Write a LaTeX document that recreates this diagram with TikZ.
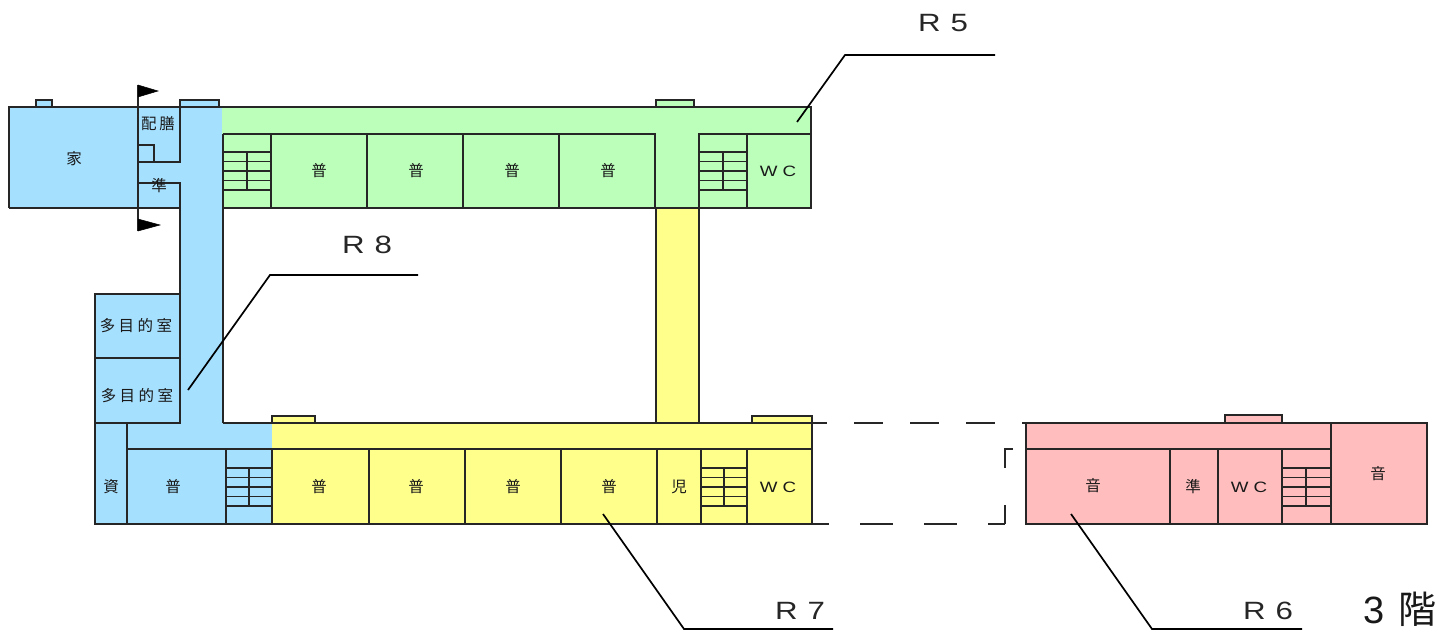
\documentclass[tikz,border=0pt]{standalone}
\usepackage{fontspec}
\setmainfont{Liberation Sans}
\newfontfamily\cjk{Noto Sans CJK JP}
\newfontfamily\wide[FakeStretch=1.25]{Liberation Sans}
\definecolor{bluezone}{HTML}{A6E0FF}
\definecolor{greenzone}{HTML}{BBFFBB}
\definecolor{yellowzone}{HTML}{FFFF8C}
\definecolor{pinkzone}{HTML}{FFBDBD}
\tikzset{
  wall/.style={draw=black!85,line width=1.1pt},
  thin wall/.style={draw=black!85,line width=1.1pt},
  leader/.style={draw=black,line width=1.7pt},
  room/.style={font=\cjk\fontsize{15.5}{15.5}\selectfont,inner sep=0pt,text=black!90},
  wc/.style={font=\wide\fontsize{15}{15}\selectfont,inner sep=0pt,text=black!90},
  rlabel/.style={font=\wide\fontsize{25}{25}\selectfont,inner sep=0pt,text=black!85},
  flagmark/.style={fill=black,draw=black,line width=.5pt},
}
\newcommand{\stairset}[4]{% x1, xmid, x2, ytop
  \foreach \k in {0,1,2,3,4}{
    \draw[thin wall] (#1,{#4+\k*9.5}) -- (#3,{#4+\k*9.5});
  }
  \draw[thin wall] (#2,#4) -- (#2,{#4+38});
}
\begin{document}
\begin{tikzpicture}[x=1pt,y=-1pt]
\useasboundingbox (0,0) rectangle (1446,632);
% fills
\fill[bluezone] (9,107) rectangle (222,208);
\fill[bluezone] (180,208) rectangle (222,423);
\fill[bluezone] (95,294) rectangle (180,423);
\fill[bluezone] (95,423) rectangle (272,524);
\fill[greenzone] (222,107) rectangle (811,208);
\fill[yellowzone] (656,208) rectangle (699,423);
\fill[yellowzone] (272,423) rectangle (812,524);
\fill[pinkzone] (1026,423) rectangle (1427,524);
% bumps
\filldraw[fill=bluezone,thin wall] (36,107) rectangle (52,100);
\filldraw[fill=bluezone,thin wall] (180,107) rectangle (219,100);
\filldraw[fill=greenzone,thin wall] (656,107) rectangle (694,100);
\filldraw[fill=yellowzone,thin wall] (272,423) rectangle (315,416);
\filldraw[fill=yellowzone,thin wall] (752,423) rectangle (812,416);
\filldraw[fill=pinkzone,thin wall] (1225,423) rectangle (1282,415);
% upper wing
\draw[wall] (9,208) -- (9,107) -- (811,107) -- (811,208) -- (222,208);
\draw[wall] (9,208) -- (180,208);
\draw[wall] (138,85) -- (138,231);
\draw[wall] (180,107) -- (180,162) -- (138,162);
\draw[wall] (138,183) -- (180,183) -- (180,294);
\draw[thin wall] (138,145) -- (154,145) -- (154,162);
\draw[wall] (223,134) -- (655,134) -- (655,208);
\draw[wall] (699,208) -- (699,134) -- (811,134);
\draw[wall] (223,134) -- (223,423);
\foreach \x in {271,367,463,559}{\draw[thin wall] (\x,134) -- (\x,208);}
\draw[thin wall] (747,134) -- (747,208);
\stairset{223}{247}{271}{152}
\stairset{699}{723}{747}{152}
% connecting wing
\draw[wall] (656,208) -- (656,423);
\draw[wall] (699,208) -- (699,423);
% west block
\draw[wall] (180,294) -- (95,294) -- (95,524) -- (812,524) -- (812,423) -- (223,423);
\draw[wall] (95,423) -- (180,423) -- (180,294);
\draw[thin wall] (95,358) -- (180,358);
\draw[wall] (127,423) -- (127,524);
\draw[wall] (127,449) -- (812,449);
\draw[thin wall] (226,449) -- (226,524);
\foreach \x in {272,369,465,561,657,701,747}{\draw[thin wall] (\x,449) -- (\x,524);}
\stairset{226}{249}{272}{468}
\stairset{701}{724}{747}{468}
% pink block
\draw[wall] (1026,423) rectangle (1427,524);
\draw[thin wall] (1026,449) -- (1331,449);
\draw[thin wall] (1331,423) -- (1331,524);
\foreach \x in {1170,1218,1282}{\draw[thin wall] (\x,449) -- (\x,524);}
\stairset{1282}{1306}{1331}{468}
% break lines
\foreach \a/\b in {812/827,854/883,910/939,966/995,1022/1038}{\draw[thin wall] (\a,423) -- (\b,423);}
\foreach \a/\b in {812/829,860/893,924/957,988/1005}{\draw[thin wall] (\a,524) -- (\b,524);}
\draw[thin wall] (1013,449) -- (1005,449) -- (1005,468);
\draw[thin wall] (1005,505) -- (1005,524);
% flags
\fill[flagmark] (138,85) -- (158,91) -- (138,97) -- cycle;
\fill[flagmark] (138,219) -- (160,225) -- (138,231) -- cycle;
% room labels
\node[room] (kaseitsu) at (74,159) {家};
\node[room] (haizen) at (158,124) {配\hspace{3pt}膳};
\node[room] (jun1) at (159,186) {準};
\foreach \n/\x in {a/319,b/416,c/512,d/608}{\node[room] (fu\n) at (\x,171) {普};}
\node[wc] (wc1) at (778,171) {W\hspace{5pt}C};
\node[room] (tamoku1) at (136,326) {多\hspace{3.5pt}目\hspace{3.5pt}的\hspace{3.5pt}室};
\node[room] (tamoku2) at (137,396) {多\hspace{3.5pt}目\hspace{3.5pt}的\hspace{3.5pt}室};
\node[room] (shi) at (111,487) {資};
\node[room] (fue) at (173,487) {普};
\foreach \n/\x in {f/319,g/416,h/513,i/609}{\node[room] (fu\n) at (\x,487) {普};}
\node[room] (ji) at (679,487) {児};
\node[wc] (wc2) at (778,487) {W\hspace{5pt}C};
\node[room] (on1) at (1093,486) {音};
\node[room] (jun2) at (1193,487) {準};
\node[wc] (wc3) at (1249,487) {W\hspace{5pt}C};
\node[room] (on2) at (1378,474) {音};
% leaders
\coordinate (r5a) at (797,122); \coordinate (r5b) at (845,55); \coordinate (r5c) at (995,55);
\coordinate (r8a) at (188,390); \coordinate (r8b) at (270,275); \coordinate (r8c) at (418,275);
\coordinate (r7a) at (603,514); \coordinate (r7b) at (684,629); \coordinate (r7c) at (833,629);
\coordinate (r6a) at (1071,514); \coordinate (r6b) at (1152,629); \coordinate (r6c) at (1302,629);
\draw[leader] (r5a) -- (r5b) -- (r5c);
\draw[leader] (r8a) -- (r8b) -- (r8c);
\draw[leader] (r7a) -- (r7b) -- (r7c);
\draw[leader] (r6a) -- (r6b) -- (r6c);
\node[rlabel] (r5) at (943,23) {R\hspace{10pt}5};
\node[rlabel] (r8) at (367,245) {R\hspace{10pt}8};
\node[rlabel] (r7) at (800,611) {R\hspace{10pt}7};
\node[rlabel] (r6) at (1268,611) {R\hspace{10pt}6};
\node[inner sep=0pt,text=black!90] (floor) at (1400,609) {\fontsize{38}{38}\selectfont 3\hspace{.38em}{\cjk 階}};
\end{tikzpicture}
\end{document}
